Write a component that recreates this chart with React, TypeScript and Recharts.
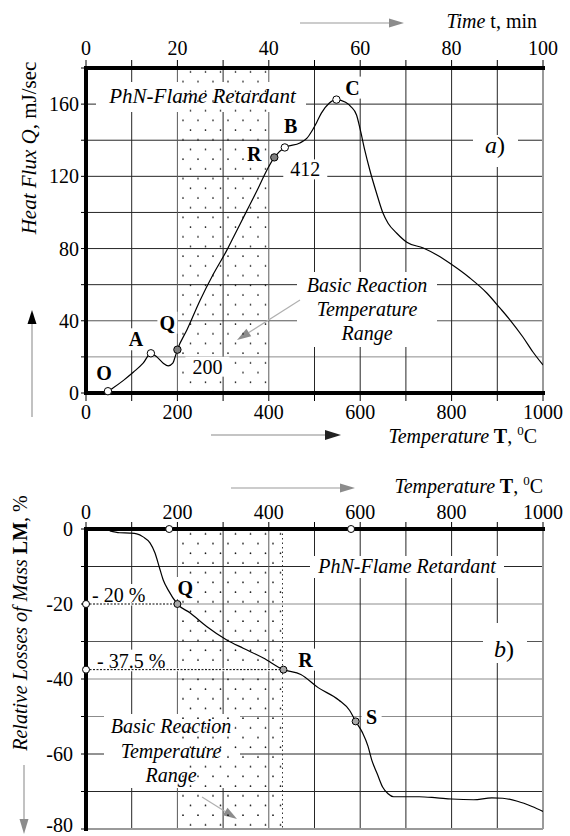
import React from 'react';
import {
  CartesianGrid,
  ComposedChart,
  Line,
  ReferenceArea,
  ReferenceDot,
  ReferenceLine,
  XAxis,
  YAxis,
} from 'recharts';

const FONT = 'Liberation Serif';

// ---------- (a) heat flux vs temperature ----------
const tempA = [25, 40, 48, 59, 82, 104, 125, 142, 155, 169, 180, 190, 195, 200, 221, 250, 279, 308, 322, 352, 374, 396, 412, 435, 468, 483, 494, 505, 515, 532, 548, 568, 580, 592, 600, 610, 621, 636, 650, 661, 680, 702, 738, 768, 801, 840, 877, 906, 928, 956, 978, 1000];
const heatFlux = [0, 0.3, 1, 2.8, 7, 11.6, 16.5, 22, 20, 16.5, 15, 16.5, 20, 24, 35, 51.5, 66, 79, 86, 101, 112, 123.5, 130.5, 136, 138.5, 141, 145, 150, 155, 160.5, 162.5, 161, 158.5, 154, 146, 134.5, 123.5, 110.5, 99.5, 94, 88.5, 83.5, 80.3, 76.4, 71, 63.7, 55.4, 47, 40.4, 31, 22.7, 15.5];
// heating rate: the time scale runs 0..100 min over 0..1000 C
const heatingRate = 10;

const pointsA = [
  { id: 'O', T: 48, Q: 1, filled: false },
  { id: 'A', T: 142, Q: 22, filled: false },
  { id: 'Q', T: 200, Q: 24, filled: true },
  { id: 'R', T: 412, Q: 130.5, filled: true },
  { id: 'B', T: 435, Q: 136, filled: false },
  { id: 'C', T: 548, Q: 162.5, filled: false },
];
const valueTagsA: Record<string, string> = { Q: '200', R: '412' };
const rangeA = [200, 400];

// ---------- (b) relative mass loss vs temperature ----------
const tempB = [52, 74, 96, 111, 125, 140, 151, 160, 169, 180, 200, 228, 264, 308, 344, 388, 432, 470, 508, 553, 577, 590, 605, 617, 625, 637, 649, 661, 673, 729, 768, 800, 848, 888, 912, 944, 976, 1000];
const massLoss = [-0.5, -1, -1.1, -1.3, -2.1, -3.7, -6.4, -10, -13.6, -16.3, -20, -22.4, -26, -29.6, -31.8, -34.4, -37.5, -38.8, -42.3, -45.6, -48.4, -51.3, -54.3, -57.9, -61.5, -65.2, -68.8, -70.6, -71.4, -71.4, -71.7, -72, -72.2, -71.7, -71.8, -72.6, -74, -75.3];

const pointsB = [
  { id: 'Q', T: 200, LM: -20 },
  { id: 'R', T: 432, LM: -37.5 },
  { id: 'S', T: 590, LM: -51.3 },
];
const levelsB = [
  { LM: -20, text: '- 20 %', to: 200 },
  { LM: -37.5, text: '- 37.5 %', to: 432 },
];
const timeMarksB = [182, 580];
const rangeB = [200, 430];

// ticks
const tempTicks = [0, 100, 200, 300, 400, 500, 600, 700, 800, 900, 1000];
const timeTicks = [0, 10, 20, 30, 40, 50, 60, 70, 80, 90, 100];
const fluxTicks = [0, 20, 40, 60, 80, 100, 120, 140, 160, 180];
const lossTicks = [-80, -70, -60, -50, -40, -30, -20, -10, 0];

const dataA = tempA.map((T, i) => ({ T, t: T / heatingRate, Q: heatFlux[i] }));
const dataB = tempB.map((T, i) => ({ T, LM: massLoss[i] }));

// label placement (pixel offsets from the marker centre)
const tagPosA: Record<string, [number, number]> = {
  O: [-4, -18], A: [-15, -14], Q: [-10, -27], R: [-20, -3], B: [6, -21], C: [16, -12],
};
const valuePosA: Record<string, [number, number]> = { Q: [30, 17], R: [31, 12] };
const tagPosB: Record<string, [number, number]> = { Q: [8, -16], R: [22, -10], S: [16, -4] };

// lighter grid lines, as in the scanned figure
const shadeA: Record<number, string> = { 20: '#8c8c8c', 40: '#555' };
const shadeB: Record<number, string> = { [-20]: '#8c8c8c', [-30]: '#555', [-40]: '#8c8c8c', [-50]: '#8c8c8c' };
const shadeCols: Record<number, string> = { 200: '#5a5a5a', 400: '#5a5a5a' };

const tickStyle = { fontSize: 20, fill: '#000', fontFamily: FONT };
const thick = { stroke: '#000', strokeWidth: 4, strokeLinecap: 'square' as const };

const gridLine = (ticks: number[], shade: Record<number, string>, tag: string) => (props: any) => {
  const { x1, y1, x2, y2, index } = props;
  return (
    <line
      key={`${tag}-${index}`} x1={x1} y1={y1} x2={x2} y2={y2}
      stroke={shade[ticks[index]] ?? '#262626'} strokeWidth={1}
    />
  );
};

// y tick that keeps the bottom label inside the page
function LossTick({ x, y, payload }: any) {
  const v = payload.value;
  if (v % 20 !== 0) return null;
  return (
    <text x={x} y={y + (v === -80 ? 3 : 7)} textAnchor="end" fontFamily={FONT} fontSize={20} fill="#000">
      {String(v)}
    </text>
  );
}

function Arrow({ x1, y1, x2, y2, line = '#999', head = '#888', len = 14, half = 4.5 }: any) {
  const d = Math.hypot(x2 - x1, y2 - y1);
  const ux = (x2 - x1) / d;
  const uy = (y2 - y1) / d;
  const bx = x2 - ux * len;
  const by = y2 - uy * len;
  const pts = `${x2},${y2} ${bx - uy * half},${by + ux * half} ${bx + uy * half},${by - ux * half}`;
  return (
    <g>
      <line x1={x1} y1={y1} x2={bx} y2={by} stroke={line} strokeWidth={1.2} />
      <polygon points={pts} fill={head} />
    </g>
  );
}

function TempTitle({ x, y }: { x: number; y: number }) {
  return (
    <text x={x} y={y} textAnchor="end" fontFamily={FONT} fontSize={20} fill="#000">
      <tspan fontStyle="italic">Temperature</tspan>
      <tspan fontWeight="bold">{' T'}</tspan>
      <tspan>{', '}</tspan>
      <tspan fontSize={13} dy={-8}>0</tspan>
      <tspan dy={8}>C</tspan>
    </text>
  );
}

function PointMark({ cx = 0, cy = 0, fill, tag, at, value, valueAt, r = 3.7 }: any) {
  return (
    <g>
      {tag && at && (
        <g>
          <rect x={cx + at[0] - 10} y={cy + at[1] - 11} width={20} height={22} fill="#fff" />
          <text x={cx + at[0]} y={cy + at[1] + 7} textAnchor="middle" fontFamily={FONT} fontWeight="bold" fontSize={20} fill="#000">
            {tag}
          </text>
        </g>
      )}
      {value && valueAt && (
        <g>
          <rect x={cx + valueAt[0] - 22} y={cy + valueAt[1] - 10} width={44} height={20} fill="#fff" />
          <text x={cx + valueAt[0]} y={cy + valueAt[1] + 7} textAnchor="middle" fontFamily={FONT} fontSize={20} fill="#000">
            {value}
          </text>
        </g>
      )}
      <circle cx={cx} cy={cy} r={r} fill={fill} stroke="#000" strokeWidth={1} />
    </g>
  );
}

function LevelMark({ cx = 0, cy = 0, text }: any) {
  const wide = text.length > 6;
  return (
    <g>
      <rect x={cx + 3} y={cy - 20} width={wide ? 80 : 72} height={18} fill="#fff" />
      <text x={cx + (wide ? 11 : 6)} y={cy - 2} fontFamily={FONT} fontSize={20} fill="#000">
        {text}
      </text>
      <circle cx={cx} cy={cy} r={3.5} fill="#fff" stroke="#000" strokeWidth={1} />
    </g>
  );
}

function HeatFluxChart() {
  return (
    <ComposedChart width={570} height={460} data={dataA} margin={{ top: 38, right: 27, bottom: 37, left: 26 }}>
      <defs>
        <pattern id="dotsA" width={15} height={19.4} patternUnits="userSpaceOnUse">
          <circle cx={3} cy={4} r={0.85} fill="#111" />
          <circle cx={10.5} cy={13.7} r={0.85} fill="#111" />
        </pattern>
      </defs>
      <CartesianGrid
        stroke="#262626" strokeWidth={1}
        horizontal={gridLine(fluxTicks, shadeA, 'row')}
        vertical={gridLine(tempTicks, shadeCols, 'col')}
      />
      <ReferenceArea x1={rangeA[0]} x2={rangeA[1]} fill="url(#dotsA)" fillOpacity={1} stroke="none" ifOverflow="visible" />
      <XAxis
        dataKey="T" type="number" domain={[0, 1000]} ticks={tempTicks} interval={0}
        tickFormatter={(v: number) => (v % 200 === 0 ? String(v) : '')}
        tickSize={8} tickMargin={4} height={30} axisLine={thick} tickLine={{ stroke: '#000' }} tick={tickStyle}
        allowDataOverflow
      />
      <XAxis
        xAxisId="time" dataKey="t" orientation="top" type="number" domain={[0, 100]} ticks={timeTicks} interval={0}
        tickFormatter={(v: number) => (v % 20 === 0 ? String(v) : '')}
        tickSize={8} tickMargin={5} height={30} axisLine={thick} tickLine={{ stroke: '#000' }} tick={tickStyle}
        allowDataOverflow
      />
      <YAxis
        type="number" domain={[0, 180]} ticks={fluxTicks} interval={0}
        tickFormatter={(v: number) => (v % 40 === 0 && v < 180 ? String(v) : '')}
        width={60} tickSize={5} tickMargin={2} axisLine={thick} tickLine={{ stroke: '#000' }} tick={tickStyle}
        allowDataOverflow
      />
      <ReferenceLine x={1000} stroke="#9a9a9a" strokeWidth={2} />

      <g>
        <rect x={96} y={82} width={210} height={30} fill="#fff" />
        <text x={202.5} y={103} textAnchor="middle" fontFamily={FONT} fontStyle="italic" fontSize={21} fill="#000">
          PhN-Flame Retardant
        </text>
        <rect x={473} y={135} width={45} height={32} fill="#fff" />
        <text x={485} y={153} fontFamily={FONT} fontSize={24} fill="#000">
          <tspan fontStyle="italic">a</tspan>
          <tspan>)</tspan>
        </text>
        <rect x={297} y={272} width={140} height={75} fill="#fff" />
        <text textAnchor="middle" fontFamily={FONT} fontStyle="italic" fontSize={20} fill="#000">
          <tspan x={367} y={291.5}>Basic Reaction</tspan>
          <tspan x={367} y={316}>Temperature</tspan>
          <tspan x={367} y={339.5}>Range</tspan>
        </text>
        <Arrow x1={300} y1={300} x2={237} y2={340} line="#b0b0b0" head="#8c8c8c" />

        <Arrow x1={300} y1={23} x2={404} y2={23} line="#9a9a9a" head="#8c8c8c" len={15} half={4.5} />
        <text x={537} y={28} textAnchor="end" fontFamily={FONT} fontSize={20} fill="#000">
          <tspan fontStyle="italic">Time</tspan>
          <tspan>{' t, min'}</tspan>
        </text>
        <Arrow x1={211} y1={435} x2={341} y2={435} line="#8a8a8a" head="#222" len={16} half={5} />
        <TempTitle x={537} y={443} />
        <Arrow x1={32} y1={417} x2={32} y2={310} line="#999" head="#000" len={14} half={4.5} />
        <text
          x={29} y={148} transform="rotate(-90 29 148)" textAnchor="middle" dominantBaseline="central"
          fontFamily={FONT} fontSize={21} fill="#000"
        >
          <tspan fontStyle="italic">Heat Flux Q</tspan>
          <tspan>{', mJ/sec'}</tspan>
        </text>
      </g>

      <Line dataKey="Q" type="monotone" stroke="#000" strokeWidth={1.2} dot={false} isAnimationActive={false} />
      {pointsA.map((p) => (
        <ReferenceDot
          key={p.id} x={p.T} y={p.Q} r={3.7} ifOverflow="visible"
          shape={(s: any) => (
            <PointMark
              cx={s.cx} cy={s.cy} fill={p.filled ? '#7f7f7f' : '#fff'}
              tag={p.id} at={tagPosA[p.id]} value={valueTagsA[p.id]} valueAt={valuePosA[p.id]}
            />
          )}
        />
      ))}
    </ComposedChart>
  );
}

function MassLossChart() {
  return (
    <ComposedChart width={570} height={376} data={dataB} margin={{ top: 39, right: 27, bottom: 7, left: 26 }}>
      <defs>
        <pattern id="dotsB" width={15} height={19.4} patternUnits="userSpaceOnUse">
          <circle cx={3} cy={6} r={0.85} fill="#111" />
          <circle cx={10.5} cy={15.7} r={0.85} fill="#111" />
        </pattern>
      </defs>
      <CartesianGrid
        stroke="#262626" strokeWidth={1}
        horizontal={gridLine(lossTicks, shadeB, 'row')}
        vertical={gridLine(tempTicks, shadeCols, 'col')}
      />
      <ReferenceArea x1={rangeB[0]} x2={rangeB[1]} fill="url(#dotsB)" fillOpacity={1} stroke="none" ifOverflow="visible" />
      <ReferenceLine x={rangeB[1]} stroke="#333" strokeDasharray="1.5 3" />
      <XAxis
        dataKey="T" type="number" orientation="top" domain={[0, 1000]} ticks={tempTicks} interval={0}
        tickFormatter={(v: number) => (v % 200 === 0 ? String(v) : '')}
        tickSize={7} tickMargin={3} height={30} axisLine={thick} tickLine={{ stroke: '#000' }} tick={tickStyle}
        allowDataOverflow
      />
      <YAxis
        type="number" domain={[-80, 0]} ticks={lossTicks} interval={0}
        width={60} tickSize={5} tickMargin={8} axisLine={thick} tickLine={{ stroke: '#000' }} tick={<LossTick />}
        allowDataOverflow
      />
      <ReferenceLine x={1000} stroke="#9a9a9a" strokeWidth={2} />
      <ReferenceLine y={-80} stroke="#9a9a9a" strokeWidth={2} />
      {levelsB.map((l) => (
        <ReferenceLine key={`w${l.LM}`} segment={[{ x: 0, y: l.LM }, { x: l.to, y: l.LM }]} stroke="#fff" strokeWidth={3} />
      ))}
      {levelsB.map((l) => (
        <ReferenceLine key={`d${l.LM}`} segment={[{ x: 0, y: l.LM }, { x: l.to, y: l.LM }]} stroke="#000" strokeDasharray="2 1.5" />
      ))}

      <g>
        <rect x={310} y={96} width={194} height={22} fill="#fff" />
        <text x={407} y={113} textAnchor="middle" fontFamily={FONT} fontStyle="italic" fontSize={20} fill="#000">
          PhN-Flame Retardant
        </text>
        <rect x={483} y={163} width={44} height={40} fill="#fff" />
        <text x={494} y={196.5} fontFamily={FONT} fontSize={24} fill="#000">
          <tspan fontStyle="italic">b</tspan>
          <tspan>)</tspan>
        </text>
        <rect x={104} y={254} width={136} height={74} fill="#fff" />
        <text textAnchor="middle" fontFamily={FONT} fontStyle="italic" fontSize={20} fill="#000">
          <tspan x={171} y={273}>Basic Reaction</tspan>
          <tspan x={171} y={298}>Temperature</tspan>
          <tspan x={171} y={322}>Range</tspan>
        </text>
        <Arrow x1={202} y1={337} x2={237} y2={359} line="#b0b0b0" head="#8c8c8c" />

        <Arrow x1={231} y1={28} x2={355} y2={28} line="#9a9a9a" head="#8c8c8c" len={15} half={4.5} />
        <TempTitle x={543} y={33} />
        <Arrow x1={24} y1={305} x2={24} y2={374} line="#999" head="#8c8c8c" len={15} half={4.5} />
        <text
          x={20} y={163} transform="rotate(-90 20 163)" textAnchor="middle" dominantBaseline="central"
          fontFamily={FONT} fontSize={20} fill="#000"
        >
          <tspan fontStyle="italic">Relative Losses of Mass </tspan>
          <tspan fontWeight="bold">LM</tspan>
          <tspan>{', %'}</tspan>
        </text>
      </g>

      <Line dataKey="LM" type="monotone" stroke="#000" strokeWidth={1.2} dot={false} isAnimationActive={false} />
      {levelsB.map((l) => (
        <ReferenceDot
          key={`l${l.LM}`} x={0} y={l.LM} r={3.5} ifOverflow="visible"
          shape={(s: any) => <LevelMark cx={s.cx} cy={s.cy} text={l.text} />}
        />
      ))}
      {timeMarksB.map((t) => (
        <ReferenceDot
          key={`t${t}`} x={t} y={0} r={3.5} ifOverflow="visible"
          shape={(s: any) => <PointMark cx={s.cx} cy={s.cy} fill="#fff" r={3.5} />}
        />
      ))}
      {pointsB.map((p) => (
        <ReferenceDot
          key={p.id} x={p.T} y={p.LM} r={3.5} ifOverflow="visible"
          shape={(s: any) => <PointMark cx={s.cx} cy={s.cy} fill="#a8a8a8" r={3.5} tag={p.id} at={tagPosB[p.id]} />}
        />
      ))}
    </ComposedChart>
  );
}

export default function App() {
  return (
    <div style={{ position: 'absolute', left: 0, top: 0, width: 570, height: 836, background: '#fff', overflow: 'hidden' }}>
      <div style={{ position: 'absolute', left: 0, top: 0 }}>
        <HeatFluxChart />
      </div>
      <div style={{ position: 'absolute', left: 0, top: 460 }}>
        <MassLossChart />
      </div>
    </div>
  );
}
